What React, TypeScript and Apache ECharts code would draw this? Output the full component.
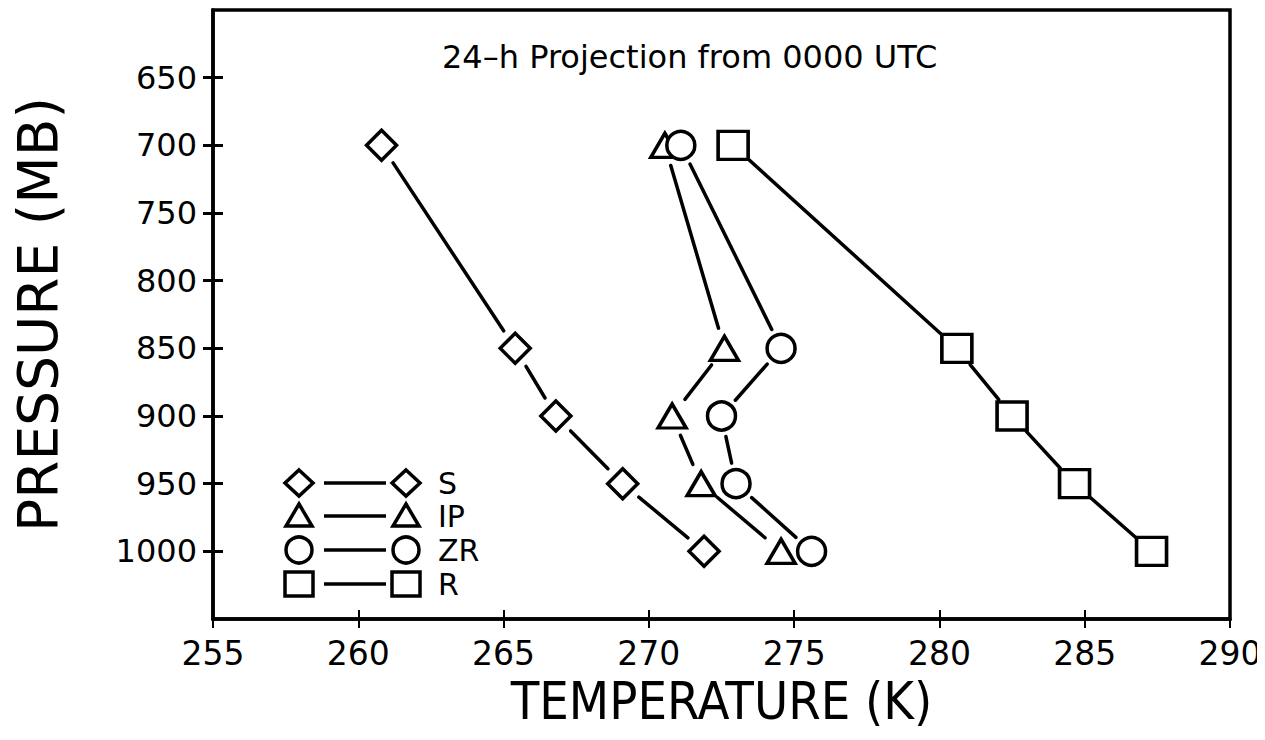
import React, { useEffect, useRef } from "react";
import * as echarts from "echarts";

const pressureLevels = [700, 850, 900, 950, 1000];
const tempS = [260.8, 265.4, 266.8, 269.1, 271.9];
const tempIP = [270.55, 272.6, 270.8, 271.8, 274.55];
const tempZR = [271.1, 274.55, 272.5, 273.0, 275.6];
const tempR = [272.9, 280.6, 282.5, 284.65, 287.3];
const seriesNames = ["S", "IP", "ZR", "R"];
const yTickValues = [650, 700, 750, 800, 850, 900, 950, 1000];
const xTickValues = [255, 260, 265, 270, 275, 280, 285, 290];
const titleText = "24–h Projection from 0000 UTC";

const FONT = "'DejaVu Sans', sans-serif";

function pairs(temps: number[]) {
  const out: number[][] = [];
  for (let i = 0; i < temps.length - 1; i++) {
    out.push([temps[i], pressureLevels[i], temps[i + 1], pressureLevels[i + 1]]);
  }
  return out;
}

function points(temps: number[]) {
  return temps.map((t, i) => [t, pressureLevels[i]]);
}

const segRender = (params: any, api: any) => {
  const p1 = api.coord([api.value(0), api.value(1)]);
  const p2 = api.coord([api.value(2), api.value(3)]);
  const dx = p2[0] - p1[0];
  const dy = p2[1] - p1[1];
  const len = Math.sqrt(dx * dx + dy * dy) || 1;
  const ux = dx / len;
  const uy = dy / len;
  const gap = 21;
  return {
    type: "line",
    shape: {
      x1: p1[0] + ux * gap,
      y1: p1[1] + uy * gap,
      x2: p2[0] - ux * gap,
      y2: p2[1] - uy * gap,
    },
    style: { stroke: "#000", lineWidth: 3.5, lineCap: "round" },
  };
};

export default function App() {
  const ref = useRef<HTMLDivElement>(null);
  useEffect(() => {
    if (!ref.current) return;
    const chart = echarts.init(ref.current, undefined, { renderer: "svg" });
    const temps = [tempS, tempIP, tempZR, tempR];
    const symbols = ["diamond", "triangle", "circle", "rect"];
    const sizes: any[] = [[30, 30], [28, 24], [28, 28], [30, 28]];

    const series: any[] = [];
    temps.forEach((t, i) => {
      series.push({
        type: "custom",
        name: seriesNames[i] + "-lines",
        renderItem: segRender,
        data: pairs(t),
        encode: { x: [0, 2], y: [1, 3] },
        silent: true,
        z: 2,
      });
      series.push({
        type: "scatter",
        name: seriesNames[i],
        data: points(t),
        symbol: symbols[i],
        symbolSize: sizes[i],
        itemStyle: { color: "#fff", borderColor: "#000", borderWidth: 3.5, opacity: 1 },
        z: 3,
      });
    });

    // Legend built from graphic elements (symbol — line — symbol, label)
    const legendRows = [483, 516, 550, 584];
    const lx1 = 299;
    const lx2 = 406;
    const legendGraphics: any[] = [];
    const mk = (kind: number, cx: number, cy: number) => {
      const st = { fill: "#fff", stroke: "#000", lineWidth: 3.5 };
      if (kind === 0)
        return { type: "polygon", shape: { points: [[cx, cy - 13], [cx + 14, cy], [cx, cy + 13], [cx - 14, cy]] }, style: st };
      if (kind === 1)
        return { type: "polygon", shape: { points: [[cx, cy - 12], [cx + 13, cy + 10], [cx - 13, cy + 10]] }, style: st };
      if (kind === 2) return { type: "circle", shape: { cx, cy, r: 13 }, style: st };
      return { type: "rect", shape: { x: cx - 14, y: cy - 12, width: 28, height: 24 }, style: st };
    };
    seriesNames.forEach((n, i) => {
      const cy = legendRows[i];
      legendGraphics.push(mk(i, lx1, cy));
      legendGraphics.push({ type: "line", shape: { x1: 324, y1: cy, x2: 386, y2: cy }, style: { stroke: "#000", lineWidth: 3.5 } });
      legendGraphics.push(mk(i, lx2, cy));
      legendGraphics.push({
        type: "text",
        x: 438,
        y: cy,
        style: { text: n, font: `30px ${FONT}`, fill: "#000", textVerticalAlign: "middle", verticalAlign: "middle" },
      });
    });

    const gridLeft = 213;
    const axisLine = { show: true, lineStyle: { color: "#000", width: 3.5 } };

    chart.setOption({
      animation: false,
      backgroundColor: "#fff",
      title: {
        text: titleText,
        left: 437,
        top: 36,
        textStyle: { fontFamily: FONT, fontSize: 32, fontWeight: "normal", color: "#000" },
      },
      grid: {
        left: gridLeft,
        right: 35,
        top: 10,
        bottom: 121,
        outerBoundsMode: "none",
        containLabel: false,
        show: true,
        borderColor: "#000",
        borderWidth: 3.5,
        backgroundColor: "transparent",
      },
      xAxis: [
        {
          type: "value",
          min: 255,
          max: 290,
          interval: 5,
          name: "TEMPERATURE (K)",
          nameLocation: "middle",
          nameGap: 52,
          nameTextStyle: { fontFamily: "'DejaVu Sans Condensed', 'Liberation Sans Narrow', sans-serif", fontSize: 52, color: "#000", verticalAlign: "top" },
          axisLine,
          splitLine: { show: false },
          axisTick: { show: true, length: 9, lineStyle: { color: "#000", width: 2 }, customValues: xTickValues },
          axisLabel: { margin: 18, fontFamily: FONT, fontSize: 33, color: "#000", customValues: xTickValues, formatter: (v: number) => String(v) },
        },
        {
          type: "value",
          min: 255,
          max: 290,
          interval: 5,
          position: "bottom",
          axisLine: { show: false },
          splitLine: { show: false },
          axisTick: { show: true, inside: true, length: 9, lineStyle: { color: "#000", width: 2 }, customValues: xTickValues },
          axisLabel: { show: false },
        },
      ],
      yAxis: [
        {
          type: "value",
          min: 600,
          max: 1050,
          interval: 50,
          inverse: true,
          name: "PRESSURE (MB)",
          nameLocation: "middle",
          nameGap: 148,
          nameRotate: 90,
          nameTextStyle: { fontFamily: FONT, fontSize: 55, color: "#000" },
          axisLine,
          splitLine: { show: false },
          axisTick: { show: true, length: 10, lineStyle: { color: "#000", width: 3 }, customValues: yTickValues },
          axisLabel: { margin: 16, fontFamily: FONT, fontSize: 32, color: "#000", customValues: yTickValues, formatter: (v: number) => String(v) },
        },
        {
          type: "value",
          min: 600,
          max: 1050,
          interval: 50,
          inverse: true,
          position: "left",
          axisLine: { show: false },
          splitLine: { show: false },
          axisTick: { show: true, inside: true, length: 10, lineStyle: { color: "#000", width: 3 }, customValues: yTickValues },
          axisLabel: { show: false },
        },
      ],
      series,
      graphic: legendGraphics,
    });
    return () => chart.dispose();
  }, []);
  return <div ref={ref} style={{ width: 1265, height: 740, marginLeft: -8, marginTop: -8 }} />;
}
